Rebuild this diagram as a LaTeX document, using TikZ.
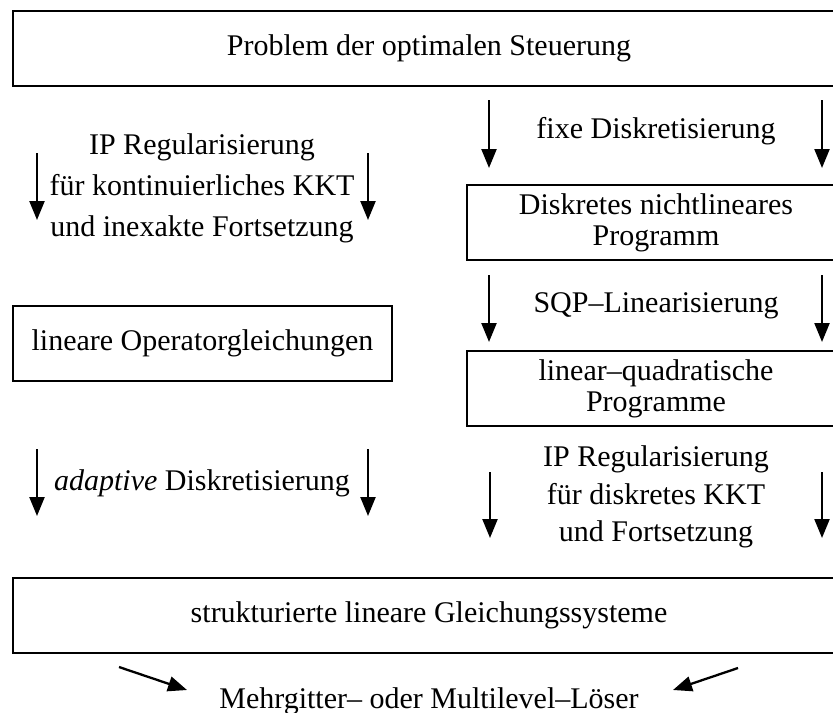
\documentclass[tikz,border=0pt]{standalone}
\usepackage{fontspec}
\setmainfont{Liberation Serif}
\usetikzlibrary{arrows.meta}

\tikzset{
  box/.style={draw, line width=0.8pt, inner sep=0pt, align=center,
    font=\fontsize{15}{15.5}\selectfont},
  lbl/.style={align=center, inner sep=0pt, font=\fontsize{15}{20.5}\selectfont},
  arr/.style={line width=1.15pt, -{Triangle[length=9.5pt,width=7.5pt]}},
}

\begin{document}
\begin{tikzpicture}[x=0.5pt, y=-0.5pt]
\clip (0,0) rectangle (833,712);

% Boxes
\node[box, minimum width=416pt, minimum height=37.5pt] (ocp) at (429,48.5)
  {Problem der optimalen Steuerung};
\node[box, minimum width=189pt, minimum height=37.5pt] (nlp) at (656,222.5)
  {Diskretes nichtlineares\\Programm};
\node[box, minimum width=189pt, minimum height=37.5pt] (lqp) at (656,388.5)
  {linear--quadratische\\Programme};
\node[box, minimum width=189.5pt, minimum height=37.5pt] (opgl) at (202.5,343.5)
  {lineare Operatorgleichungen};
\node[box, minimum width=416pt, minimum height=37.5pt] (lgs) at (429,615.5)
  {strukturierte lineare Gleichungssysteme};

% Labels
\node[lbl] (fixe) at (656,131) {fixe Diskretisierung};
\node[lbl] (sqp) at (656,306) {SQP--Linearisierung};
\node[lbl] (ipkont) at (202,188)
  {IP Regularisierung\\f\"ur kontinuierliches KKT\\und inexakte Fortsetzung};
\node[lbl] (adapt) at (202,483) {\textit{adaptive} Diskretisierung};
\node[lbl, font=\fontsize{15}{18.75}\selectfont] (ipdisk) at (656,497)
  {IP Regularisierung\\f\"ur diskretes KKT\\und Fortsetzung};
\node[lbl, anchor=base] (loeser) at (429,708) {Mehrgitter-- oder Multilevel--L\"oser};

% Arrows beside the labels
\foreach \n/\x/\ya/\yb in {f1/489/100/168, f2/822/100/168,
    s1/489/275/342, s2/822/275/342,
    c1/37/153/220, c2/368/153/220,
    a1/37/449/516, a2/368/449/516,
    d1/490/472/538, d2/822/472/538} {
  \coordinate (\n s) at (\x,\ya);
  \coordinate (\n e) at (\x,\yb);
  \draw[arr] (\n s) -- (\n e);
}

% Arrows to the solver
\coordinate (m1s) at (119,667);
\coordinate (m1e) at (187,690);
\coordinate (m2s) at (738,668);
\coordinate (m2e) at (673,690);
\draw[arr] (m1s) -- (m1e);
\draw[arr] (m2s) -- (m2e);
\end{tikzpicture}
\end{document}
